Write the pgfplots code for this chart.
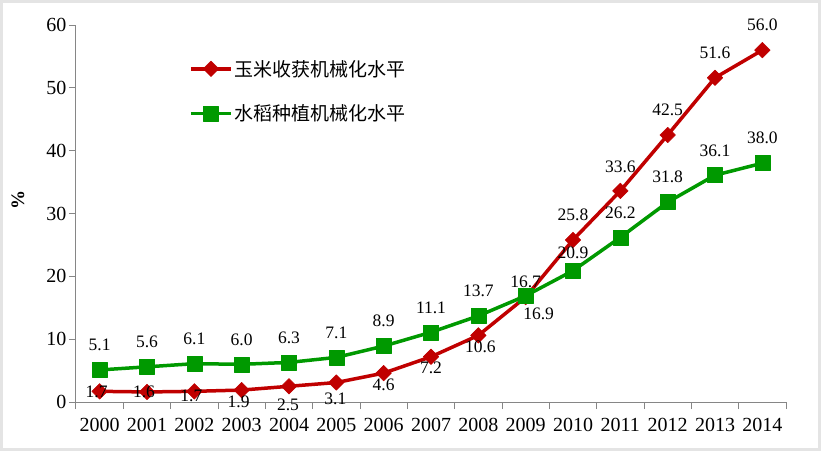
\documentclass[border=0pt]{standalone}
\usepackage{pgfplots}
\pgfplotsset{compat=1.18}
\usepackage{pgfplotstable}
\usepackage{fontspec}
\setmainfont{Liberation Serif}
\newfontfamily\cjk{Noto Sans CJK SC}
\definecolor{cred}{HTML}{C00000}
\definecolor{cgreen}{HTML}{009900}
\definecolor{axgray}{HTML}{868686}
\definecolor{frame}{HTML}{E4E4E4}

\pgfplotstableread{
x corn cdx cdy rice rdx rdy
0  1.7 -3  -1  5.1 0 25
1  1.6 -3   0  5.6 0 25
2  1.7 -3  -5  6.1 0 25
3  1.9 -3 -12  6.0 0 25
4  2.5 -1 -19  6.3 0 25
5  3.1 -1 -16  7.1 0 25
6  4.6  0 -12  8.9 0 25
7  7.2  0 -11 11.1 0 24
8 10.6  2 -11 13.7 0 25
9 16.7  0  15 16.9 13 -18
10 25.8 0  25 20.9 0 18
11 33.6 0  24 26.2 0 25
12 42.5 0  25 31.8 0 25
13 51.6 0  25 36.1 0 24
14 56.0 0  25 38.0 0 25
}\data

\begin{document}
\begin{tikzpicture}
\useasboundingbox (-76pt,-49pt) rectangle (745pt,402pt);
\fill[white] (-76pt,-49pt) rectangle (745pt,402pt);
\draw[frame, line width=3pt] (-74.5pt,-47.5pt) rectangle (743.5pt,400.5pt);
\begin{axis}[
  scale only axis, width=710pt, height=377pt,
  xmin=-0.5, xmax=14.5, ymin=0, ymax=60,
  axis lines*=left,
  axis line style={axgray, line width=1pt},
  every tick/.style={axgray, line width=1pt},
  tick align=outside,
  xtick={0,...,14},
  xticklabels={2000,2001,2002,2003,2004,2005,2006,2007,2008,2009,2010,2011,2012,2013,2014},
  major x tick style={draw=none},
  minor xtick={-0.5,0.5,...,14.5},
  major tick length=7pt, minor tick length=7pt,
  ytick={0,10,...,60},
  /pgf/number format/assume math mode=true,
  tick label style={font=\fontsize{20}{23}\selectfont, black},
  xticklabel style={yshift=-6pt},
  yticklabel style={xshift=1pt},
  ylabel={\textbf{\%}},
  every axis y label/.style={at={(rel axis cs:0,0.536)}, xshift=-58pt, rotate=90, anchor=center, font=\fontsize{19}{22}\selectfont},
  clip=false,
  legend style={at={(0.155,0.918)}, anchor=north west, draw=none, fill=none,
    font=\cjk\fontsize{19}{22}\selectfont, row sep=23pt},
  legend cell align=left,
  legend image code/.code={\draw[mark repeat=2, mark phase=2] plot coordinates {(0pt,0pt) (20pt,0pt) (40pt,0pt)};},
  nodes near coords,
  point meta=y,
  nodes near coords={\pgfmathprintnumber[fixed, fixed zerofill, precision=1, assume math mode=true]{\pgfplotspointmeta}},
]
\addplot[cred, line width=3.5pt, line join=round, mark=square*, mark size=5.5pt,
  mark options={rotate=45, line width=0.5pt, solid},
  visualization depends on={\thisrow{cdx} \as \dx},
  visualization depends on={\thisrow{cdy} \as \dy},
  every node near coord/.append style={anchor=center, xshift=\dx pt, yshift=\dy pt, text=black, font=\fontsize{17.5}{20}\selectfont}]
  table[x=x, y=corn] {\data};
\addlegendentry{玉米收获机械化水平}
\addplot[cgreen, line width=3.5pt, line join=round, mark=square*, mark size=7.5pt,
  mark options={line width=0.5pt, solid},
  visualization depends on={\thisrow{rdx} \as \dx},
  visualization depends on={\thisrow{rdy} \as \dy},
  every node near coord/.append style={anchor=center, xshift=\dx pt, yshift=\dy pt, text=black, font=\fontsize{17.5}{20}\selectfont}]
  table[x=x, y=rice] {\data};
\addlegendentry{水稻种植机械化水平}
\end{axis}
\end{tikzpicture}
\end{document}
